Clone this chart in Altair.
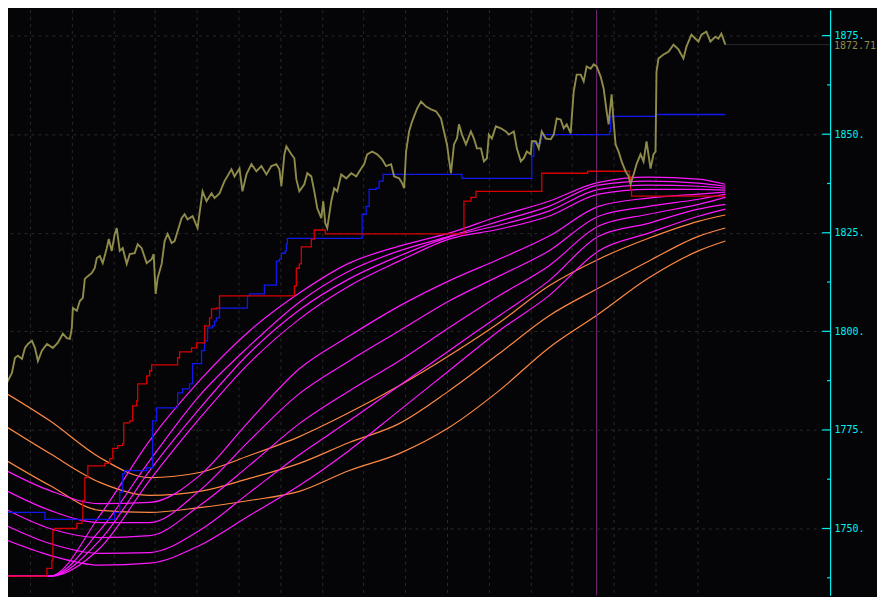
import altair as alt
import pandas as pd

# ---------------- data ----------------
PRICE_T = [0, 2, 3, 7, 12, 15, 18, 22, 25, 28, 32, 35, 38, 42, 47, 53, 58, 63, 67, 70, 72, 73, 77, 80, 83, 85, 88, 92, 95, 97,
           100, 103, 107, 109, 112, 115, 117, 120, 123, 127, 130, 135, 138, 142, 147, 152, 154, 156, 158, 162, 165, 168, 172, 175,
           178, 182, 185, 188, 193, 198, 200, 203, 207, 212, 215, 220, 225, 232, 235, 240, 243, 247, 252, 257, 262, 267, 272, 277,
           280, 282, 285, 287, 292, 295, 297, 300, 305, 308, 312, 315, 318, 322, 324, 326, 328, 332, 335, 338, 342, 347, 352, 357,
           362, 365, 368, 373, 378, 383, 387, 392, 395, 400, 403, 405, 407, 410, 413, 418, 422, 427, 432, 437, 442, 445, 448, 450,
           452, 455, 458, 460, 463, 467, 472, 475, 478, 482, 485, 488, 490, 493, 497, 502, 507, 510, 515, 518, 522, 525, 528, 532,
           533, 537, 540, 543, 547, 552, 555, 558, 562, 565, 568, 572, 573, 575, 578, 582, 585, 588, 592, 595, 598, 602, 605, 608,
           610, 613, 615, 617, 620, 623, 627, 630, 632, 635, 638, 642, 645, 648, 652, 655, 657, 658, 660, 665, 670, 675, 680, 685,
           688, 693, 697, 700, 703, 708, 712, 717, 720, 723, 727]
PRICE_V = [1786.2, 1786.2, 1788.2, 1787.0, 1789.5, 1793.3, 1793.8, 1793.0, 1795.8, 1796.8, 1797.6, 1795.8, 1792.5, 1795.1,
           1796.8, 1795.8, 1797.1, 1799.4, 1798.3, 1798.1, 1800.9, 1805.9, 1805.2, 1807.7, 1808.5, 1813.3, 1814.0, 1814.8, 1816.1,
           1818.6, 1819.1, 1817.3, 1821.1, 1823.4, 1820.4, 1824.7, 1826.2, 1820.4, 1821.1, 1817.1, 1819.6, 1819.8, 1822.1, 1821.1,
           1817.3, 1818.3, 1819.6, 1809.5, 1813.5, 1817.1, 1822.9, 1824.7, 1822.4, 1822.9, 1825.4, 1828.7, 1829.7, 1828.4, 1829.2,
           1826.2, 1830.0, 1835.5, 1833.0, 1835.0, 1833.8, 1835.0, 1838.1, 1841.1, 1839.3, 1841.3, 1835.5, 1839.8, 1842.4, 1840.6,
           1841.9, 1839.8, 1841.9, 1842.4, 1841.1, 1836.8, 1844.9, 1846.9, 1844.9, 1843.9, 1838.6, 1835.5, 1837.3, 1840.1, 1839.3,
           1835.5, 1831.2, 1828.7, 1833.0, 1827.4, 1826.2, 1833.0, 1836.3, 1835.5, 1839.8, 1838.8, 1840.1, 1839.3, 1841.3, 1842.4,
           1844.9, 1845.6, 1844.9, 1843.6, 1841.9, 1842.4, 1839.3, 1838.8, 1837.6, 1836.3, 1845.6, 1850.7, 1853.2, 1856.5, 1858.3,
           1857.0, 1856.3, 1855.8, 1854.0, 1850.7, 1847.4, 1843.6, 1840.1, 1847.4, 1848.9, 1852.5, 1849.9, 1847.4, 1850.7, 1848.9,
           1846.4, 1846.4, 1843.1, 1843.9, 1849.9, 1848.9, 1852.0, 1851.5, 1850.7, 1849.9, 1850.7, 1846.4, 1843.1, 1843.9, 1845.6,
           1844.9, 1848.2, 1848.2, 1846.4, 1850.7, 1848.9, 1848.7, 1849.9, 1854.0, 1853.7, 1851.5, 1852.5, 1850.2, 1854.0, 1860.8,
           1865.1, 1865.1, 1863.4, 1867.2, 1866.6, 1867.7, 1867.2, 1864.6, 1861.6, 1855.8, 1852.5, 1860.1, 1853.2, 1847.4, 1845.6,
           1843.1, 1840.6, 1839.3, 1837.3, 1839.8, 1842.4, 1844.9, 1843.1, 1848.2, 1841.3, 1844.9, 1845.6, 1865.9, 1869.2, 1870.2,
           1870.9, 1872.7, 1871.5, 1869.2, 1872.2, 1875.25, 1874.2, 1873.5, 1875.25, 1876.0, 1873.5, 1874.7, 1874.2, 1875.5, 1872.7]

BLUE_T = [0, 45, 115, 120, 123, 125, 147, 153, 157, 178, 183, 190, 193, 202, 205, 208, 213, 215, 217, 220, 248, 250, 265, 277,
          280, 282, 286, 287, 288, 363, 367, 370, 377, 380, 384, 463, 533, 535, 542, 543, 611, 612, 657, 727]
BLUE_V = [1754.1, 1752.3, 1754.1, 1759.2, 1763.9, 1764.7, 1765.4, 1777.3, 1780.6, 1784.4, 1785.4, 1786.7, 1791.8, 1795.1,
          1797.6, 1800.9, 1801.4, 1802.6, 1803.4, 1805.9, 1809.0, 1809.5, 1811.7, 1817.8, 1818.3, 1819.8, 1820.4, 1822.1,
          1823.6, 1829.7, 1831.7, 1836.0, 1836.3, 1838.1, 1839.8, 1838.8, 1844.4, 1847.7, 1848.7, 1849.9, 1850.7, 1854.5,
          1855.0, 1855.0]

RED_T = [0, 47, 52, 53, 55, 77, 82, 83, 85, 88, 105, 110, 113, 118, 123, 124, 130, 133, 137, 138, 147, 150, 152, 178, 180, 192,
         197, 205, 210, 212, 217, 220, 295, 297, 300, 302, 312, 315, 326, 465, 472, 477, 543, 589, 631, 632, 633, 727]
RED_V = [1737.9, 1739.9, 1741.9, 1749.5, 1750.0, 1751.3, 1752.0, 1757.1, 1762.9, 1765.9, 1766.5, 1767.7, 1770.3, 1771.0,
         1771.5, 1776.8, 1777.3, 1781.1, 1782.4, 1786.7, 1788.7, 1790.0, 1791.5, 1793.3, 1794.8, 1795.8, 1797.1, 1801.4,
         1803.4, 1805.7, 1805.9, 1809.0, 1811.5, 1816.0, 1817.1, 1821.4, 1823.4, 1825.7, 1824.7, 1833.0, 1834.0, 1835.5,
         1840.1, 1840.6, 1839.3, 1836.0, 1834.3, 1834.3]

CURVE_T = [0, 50, 100, 150, 200, 250, 300, 350, 400, 450, 500, 550, 600, 650, 700, 727]
MAGENTA = {
    "F1": [1737.9, 1737.9, 1753.3, 1772.3, 1787.5, 1800.1, 1809.7, 1817.3, 1821.6, 1824.9, 1829.2, 1833.0, 1837.8, 1839.1, 1838.6, 1837.3],
    "F2": [1737.9, 1737.9, 1749.5, 1767.2, 1783.7, 1796.3, 1807.4, 1815.3, 1820.4, 1824.1, 1827.9, 1831.7, 1837.1, 1838.1, 1837.6, 1836.8],
    "F3": [1737.9, 1737.9, 1747.0, 1764.7, 1780.4, 1794.5, 1805.4, 1813.3, 1819.1, 1823.9, 1826.9, 1830.5, 1836.0, 1837.1, 1836.8, 1836.3],
    "F4": [1737.9, 1737.9, 1745.0, 1762.2, 1777.9, 1792.0, 1803.1, 1811.5, 1817.8, 1823.4, 1825.9, 1829.2, 1834.8, 1836.0, 1836.0, 1835.8],
    "S1": [1765.5, 1759.6, 1756.3, 1756.6, 1763.4, 1777.3, 1790.5, 1798.8, 1806.4, 1812.8, 1818.3, 1824.1, 1831.7, 1833.8, 1834.8, 1835.3],
    "S2": [1760.4, 1754.6, 1751.5, 1751.5, 1759.6, 1772.3, 1784.2, 1792.5, 1800.1, 1807.7, 1814.0, 1820.4, 1829.2, 1831.7, 1833.5, 1834.8],
    "S3": [1755.6, 1750.0, 1747.7, 1748.2, 1755.8, 1766.0, 1776.6, 1784.9, 1792.5, 1800.9, 1809.0, 1816.6, 1826.7, 1829.7, 1832.2, 1834.0],
    "S4": [1751.5, 1746.2, 1743.7, 1743.9, 1749.5, 1759.1, 1768.7, 1777.3, 1786.2, 1795.1, 1803.9, 1812.8, 1824.1, 1827.4, 1831.0, 1832.2],
    "S5": [1747.7, 1743.2, 1740.7, 1741.2, 1745.7, 1753.3, 1760.9, 1769.8, 1779.9, 1790.0, 1800.1, 1809.0, 1820.4, 1824.9, 1829.2, 1831.0],
}
ORANGE = {
    "A": [1785.2, 1777.3, 1768.0, 1762.9, 1764.2, 1768.5, 1773.3, 1779.4, 1786.2, 1793.8, 1802.1, 1811.5, 1818.3, 1823.6, 1827.9, 1829.5],
    "B": [1776.8, 1769.0, 1761.7, 1758.4, 1759.4, 1762.7, 1766.5, 1771.8, 1776.6, 1784.9, 1794.3, 1803.9, 1811.0, 1817.8, 1824.1, 1826.2],
    "C": [1768.2, 1760.9, 1754.6, 1754.1, 1755.3, 1757.1, 1759.4, 1764.7, 1769.0, 1775.6, 1784.9, 1795.8, 1804.4, 1813.5, 1820.4, 1822.9],
}

MAJOR_TICKS = [1750, 1775, 1800, 1825, 1850, 1875]
MINOR_TICKS = [1737.5, 1762.5, 1787.5, 1812.5, 1837.5, 1862.5]
GRID_T = [30, 72, 114, 155, 197, 239, 281, 323, 364, 406, 448, 490, 532, 573, 615, 657, 699]
LAST_PRICE = 1872.71
LAST_T = 727
CURSOR_T = 598
X_MIN, X_MAX = 8, 832
Y_MIN, Y_MAX = 1733.05, 1881.58

# ---------------- styles ----------------
BG = "#050508"
GRID = "#2a2a2a"
CYAN = "#00f0f0"
OLIVE = "#8f8c4b"

xs = alt.Scale(domain=[X_MIN, X_MAX], nice=False, zero=False)
ys = alt.Scale(domain=[Y_MIN, Y_MAX], nice=False, zero=False)

x_axis = alt.Axis(values=GRID_T, grid=True, gridColor=GRID, gridDash=[3, 4], labels=False,
                  ticks=False, domain=False, title=None)
y_axis = alt.Axis(orient="right", values=MAJOR_TICKS, grid=True, gridColor=GRID, gridDash=[3, 4],
                  labelExpr="datum.value + '.'", labelColor=CYAN, labelFont="DejaVu Sans Mono",
                  labelFontSize=10, labelPadding=4, ticks=False, domainColor=CYAN, domainWidth=1.2,
                  title=None)


def X(field="t"):
    return alt.X(f"{field}:Q", scale=xs, axis=x_axis)


def Y(field="v"):
    return alt.Y(f"{field}:Q", scale=ys, axis=y_axis)


def curves_df(d):
    rows = []
    for name, vals in d.items():
        for t, v in zip(CURVE_T, vals):
            rows.append({"name": name, "t": t, "v": v})
    return pd.DataFrame(rows)


price_df = pd.DataFrame({"t": PRICE_T, "v": PRICE_V})
blue_df = pd.DataFrame({"t": BLUE_T, "v": BLUE_V})
red_df = pd.DataFrame({"t": RED_T, "v": RED_V})
mag_df = curves_df(MAGENTA)
ora_df = curves_df(ORANGE)

orange = alt.Chart(ora_df).mark_line(color="#ff8844", strokeWidth=1.2, interpolate="monotone", clip=True).encode(
    x=X(), y=Y(), detail="name:N")
magenta = alt.Chart(mag_df).mark_line(color="#ff18ff", strokeWidth=1.2, interpolate="monotone", clip=True).encode(
    x=X(), y=Y(), detail="name:N")
blue = alt.Chart(blue_df).mark_line(color="#1018ee", strokeWidth=1.3, interpolate="step-after", clip=True).encode(
    x=X(), y=Y())
red = alt.Chart(red_df).mark_line(color="#d80000", strokeWidth=1.3, interpolate="step-after", clip=True).encode(
    x=X(), y=Y())
price = alt.Chart(price_df).mark_line(color=OLIVE, strokeWidth=1.9, clip=True).encode(x=X(), y=Y())

cursor = alt.Chart(pd.DataFrame({"t": [CURSOR_T]})).mark_rule(color="#7a2a7a", strokeWidth=1).encode(x=X())
last_line = alt.Chart(pd.DataFrame({"t": [LAST_T], "t2": [X_MAX], "v": [LAST_PRICE]})).mark_rule(
    color="#2a2a2a", strokeWidth=1).encode(x=X(), x2="t2:Q", y=Y())

major_df = pd.DataFrame({"v": MAJOR_TICKS, "t": [X_MAX - 8] * len(MAJOR_TICKS), "t2": [X_MAX] * len(MAJOR_TICKS)})
minor_df = pd.DataFrame({"v": MINOR_TICKS, "t": [X_MAX - 3] * len(MINOR_TICKS), "t2": [X_MAX] * len(MINOR_TICKS)})
major_ticks = alt.Chart(major_df).mark_rule(color=CYAN, strokeWidth=1.2).encode(x=X(), x2="t2:Q", y=Y())
minor_ticks = alt.Chart(minor_df).mark_rule(color=CYAN, strokeWidth=1.2).encode(x=X(), x2="t2:Q", y=Y())

last_label = alt.Chart(pd.DataFrame({"t": [X_MAX], "v": [LAST_PRICE], "s": [f"{LAST_PRICE:.2f}"]})).mark_text(
    color=OLIVE, font="DejaVu Sans Mono", fontSize=10, align="left", baseline="middle", dx=4, dy=1, clip=False
).encode(x=X(), y=Y(), text="s:N")

chart = alt.layer(
    orange, magenta, cursor, last_line, blue, red, price, major_ticks, minor_ticks, last_label
).properties(
    width=X_MAX - X_MIN, height=587, background=BG, padding=0
).configure_view(stroke=None)

chart.save("out.html", embed_options={"renderer": "svg", "actions": False})
